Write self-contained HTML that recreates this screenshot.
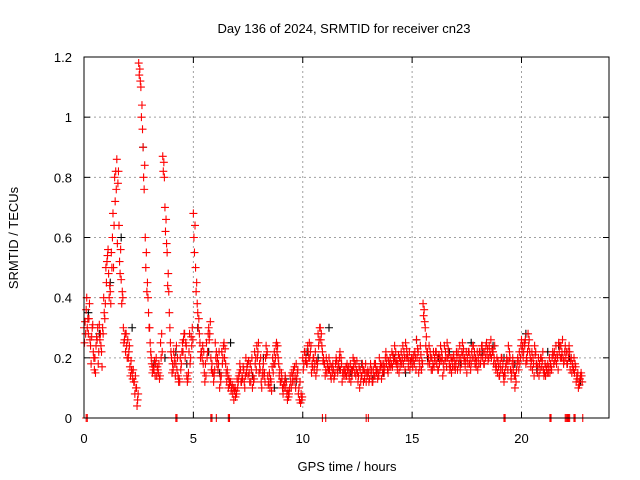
<!DOCTYPE html>
<html><head><meta charset="utf-8"><style>
body{margin:0;background:#fff}
svg{display:block;font-family:"Liberation Sans",sans-serif}
</style></head><body>
<svg id="chart" width="640" height="480" xmlns="http://www.w3.org/2000/svg">
<text x="344" y="33" font-size="13" text-anchor="middle">Day 136 of 2024, SRMTID for receiver cn23</text>
<text x="347" y="471" font-size="13" text-anchor="middle">GPS time / hours</text>
<text transform="translate(18,238) rotate(-90)" font-size="13" text-anchor="middle">SRMTID / TECUs</text>
<g id="grid"></g>
<g id="ticks"></g>
<g id="black"></g>
<g id="red"></g>
<rect x="84" y="57" width="525" height="361" fill="none" stroke="#000" stroke-width="1"/>
</svg>
<script>
const xTicks=[0,5,10,15,20];
const yTicks=[0,0.2,0.4,0.6,0.8,1.0,1.2];
const yTickLabels=["0","0.2","0.4","0.6","0.8","1","1.2"];
const redA=[.30,.36,.28,.24,.31,.20,.26,.31,.22,.40,.50,.56,.42,.60,.80,.86,.64,.46,.30,.22,.26,.17,.15,.12,.10,1.18,1.10,.90,.60,.45,.30,.18,.16,.20,.15,.25,.87,.70,.55,.35,.20,.22,.18,.14,.20,.25,.28,.14,.22,.27,.68,.50,.35,.25,.20,.15,.25,.30,.20,.15,.25,.20,.10,.22,.25,.15,.10,.12,.08,.10,.13,.15,.12,.16,.20,.14,.18,.10,.22,.24,.15,.12,.18,.20,.14,.10,.17,.22,.25,.18,.12,.08,.14,.06,.10,.15,.12,.18,.08,.05,.20,.22,.18,.25,.15,.20,.14,.28,.30,.22,.18,.15,.20,.13,.16,.18,.15,.22,.12,.16,.14,.17,.12,.20,.18,.15,.10,.14,.16,.12,.15,.18,.12,.14,.16,.20,.13,.18,.22,.15,.20,.17,.24,.19,.15,.22,.18,.25,.20,.16,.20,.18,.26,.15,.21,.38,.30,.22,.18,.20,.17,.22,.16,.24,.14,.19,.25,.18,.15,.21,.18,.22,.16,.25,.20,.15,.22,.18,.24,.20,.16,.22,.24,.18,.25,.20,.26,.22,.18,.15,.14,.20,.12,.18,.24,.16,.20,.10,.18,.22,.26,.22,.18,.28,.20,.16,.24,.18,.14,.20,.16,.14,.18,.15,.20,.22,.18,.25,.24,.20,.24,.18,.22,.15,.20,.12,.10,.14];
const redB=[.25,.40,.33,.18,.22,.15,.30,.26,.17,.35,.45,.48,.38,.68,.72,.58,.52,.38,.25,.28,.20,.14,.13,.08,.04,1.14,1.00,.80,.50,.40,.25,.15,.19,.14,.18,.20,.82,.62,.44,.30,.15,.18,.24,.12,.16,.22,.20,.12,.28,.24,.60,.42,.30,.20,.24,.12,.20,.26,.16,.12,.20,.16,.14,.18,.20,.12,.13,.09,.10,.07,.10,.18,.14,.12,.15,.19,.12,.14,.18,.20,.18,.10,.14,.24,.11,.13,.20,.18,.22,.14,.15,.11,.10,.09,.14,.12,.17,.13,.10,.08,.16,.19,.24,.20,.18,.16,.19,.24,.26,.19,.14,.18,.16,.17,.13,.20,.18,.16,.15,.14,.18,.13,.16,.17,.14,.12,.16,.18,.13,.15,.12,.14,.16,.18,.13,.16,.18,.15,.18,.19,.17,.21,.19,.16,.20,.18,.22,.20,.17,.19,.17,.22,.20,.19,.16,.34,.24,.18,.22,.16,.20,.18,.21,.19,.18,.22,.20,.16,.19,.17,.22,.18,.20,.21,.17,.20,.18,.22,.20,.17,.20,.18,.20,.22,.21,.24,.20,.18,.16,.19,.18,.16,.15,.20,.19,.13,.16,.14,.20,.18,.22,.25,.20,.24,.17,.20,.21,.15,.18,.17,.14,.17,.15,.18,.22,.19,.21,.22,.20,.18,.20,.22,.16,.18,.15,.14,.12,.15];
const redC=[.32,.30,.38,.27,.20,.24,.18,.28,.30,.33,.52,.40,.55,.50,.82,.78,.48,.42,.26,.24,.22,.19,.16,.14,.06,1.16,1.04,.76,.55,.35,.22,.17,.14,.17,.13,.28,.85,.66,.48,.25,.18,.20,.16,.13,.18,.26,.25,.13,.18,.30,.55,.45,.33,.22,.18,.18,.22,.28,.18,.14,.22,.18,.12,.20,.23,.16,.11,.10,.06,.09,.12,.16,.13,.10,.17,.15,.16,.12,.20,.22,.16,.14,.15,.21,.12,.12,.15,.20,.24,.16,.13,.10,.12,.07,.12,.14,.14,.15,.06,.06,.18,.20,.22,.22,.17,.18,.16,.26,.28,.20,.16,.17,.18,.15,.14,.19,.17,.20,.14,.15,.16,.15,.14,.19,.16,.14,.12,.16,.15,.14,.13,.16,.14,.16,.15,.18,.15,.17,.20,.17,.18,.19,.22,.18,.17,.20,.20,.23,.19,.18,.19,.20,.23,.17,.19,.36,.27,.20,.20,.18,.19,.20,.18,.22,.16,.20,.23,.17,.17,.19,.20,.20,.18,.23,.19,.18,.20,.20,.22,.19,.18,.20,.22,.20,.23,.22,.23,.20,.17,.17,.16,.18,.14,.19,.22,.15,.18,.12,.19,.20,.24,.24,.19,.26,.19,.18,.22,.17,.16,.19,.15,.16,.17,.17,.21,.20,.20,.24,.22,.19,.22,.20,.19,.17,.18,.13,.11,.14];
const redD=[.28,.33,.26,.30,.16,.27,.22,.24,.28,.38,.54,.44,.50,.64,.76,.82,.56,.40,.28,.20,.24,.16,.12,.10,.08,1.12,.96,.84,.42,.30,.20,.16,.18,.16,.14,.22,.80,.58,.42,.22,.16,.14,.20,.12,.22,.28,.24,.15,.20,.26,.64,.38,.28,.22,.22,.14,.28,.32,.15,.16,.18,.22,.14,.24,.18,.14,.12,.11,.09,.08,.14,.12,.17,.14,.18,.12,.20,.13,.16,.25,.20,.16,.12,.22,.15,.09,.18,.24,.20,.12,.10,.12,.08,.08,.10,.16,.10,.16,.12,.07,.22,.18,.20,.24,.20,.22,.18,.30,.24,.18,.20,.16,.14,.18,.15,.16,.20,.18,.16,.17,.15,.18,.16,.15,.19,.17,.14,.12,.18,.16,.16,.12,.18,.15,.14,.17,.16,.20,.16,.18,.22,.20,.18,.21,.19,.24,.16,.21,.22,.20,.21,.16,.22,.24,.18,.32,.22,.24,.16,.22,.22,.16,.20,.20,.24,.17,.21,.20,.20,.16,.16,.24,.22,.19,.22,.22,.16,.24,.18,.22,.22,.24,.18,.24,.19,.21,.22,.24,.20,.14,.20,.14,.17,.16,.20,.18,.14,.16,.16,.24,.20,.26,.22,.22,.22,.14,.18,.20,.20,.22,.18,.15,.20,.16,.18,.24,.16,.20,.26,.22,.18,.24,.20,.16,.17,.15,.13,.12];
const blackVals=[.35,.28,.45,.60,.30,.90,.18,.20,.22,.18,.30,.22,.15,.25,.12,.14,.20,.10,.13,.12,.22,.20,.30,.16,.15,.18,.13,.15,.20,.15,.26,.20,.20,.22,.18,.25,.22,.24,.20,.18,.28,.16,.22,.24,.20,.12];
const zeroTimes=[0.1,0.15,4.2,4.25,5.8,5.85,6.05,6.6,6.65,10.9,11.05,12.9,13.0,19.2,19.25,21.3,21.35,22.0,22.05,22.1,22.15,22.2,22.4,22.45,22.8];
const X0=84,X1=609,Y0=418,Y1=57;
const xs=t=>X0+t/24*(X1-X0);
const ys=v=>Y0-v/1.2*(Y0-Y1);
const NS="http://www.w3.org/2000/svg";
function mk(tag,attrs,parent){const e=document.createElementNS(NS,tag);for(const k in attrs)e.setAttribute(k,attrs[k]);parent.appendChild(e);return e;}
const grid=document.getElementById('grid'),ticks=document.getElementById('ticks');
xTicks.forEach(t=>{const x=xs(t);
 if(t>0){const g=mk('line',{x1:x,x2:x,y1:Y0,y2:Y1,stroke:'#a0a0a0','stroke-dasharray':'2,3'},grid);}
 const a=mk('line',{x1:x,x2:x,y1:Y0,y2:Y0-6,stroke:'#000'},ticks);
 const b=mk('line',{x1:x,x2:x,y1:Y1,y2:Y1+6,stroke:'#000'},ticks);
 const l=mk('text',{x:x,y:443,'font-size':13,'text-anchor':'middle'},ticks);l.textContent=t;});
yTicks.forEach((v,i)=>{const y=ys(v);
 if(i>0&&i<yTicks.length-1){const g=mk('line',{x1:X0,x2:X1,y1:y,y2:y,stroke:'#a0a0a0','stroke-dasharray':'2,3'},grid);}
 const a=mk('line',{x1:X0,x2:X0+6,y1:y,y2:y,stroke:'#000'},ticks);
 const b=mk('line',{x1:X1,x2:X1-6,y1:y,y2:y,stroke:'#000'},ticks);
 const l=mk('text',{x:72,y:y+5,'font-size':13,'text-anchor':'end'},ticks);l.textContent=yTickLabels[i];});
function plus(g,t,v,col){const x=xs(t),y=ys(v);
 const p=mk('path',{d:`M${x-4},${y}H${x+4}M${x},${y-4}V${y+4}`,stroke:col,'stroke-width':1.1,fill:'none'},g);
 
 }
const bg=document.getElementById('black'),rg=document.getElementById('red');
blackVals.forEach((v,i)=>plus(bg,i*0.5+0.2,v,'#000'));
redA.forEach((v,i)=>plus(rg,i*0.1,v,'#f00'));
redB.forEach((v,i)=>plus(rg,i*0.1+0.025,v,'#f00'));
redC.forEach((v,i)=>plus(rg,i*0.1+0.05,v,'#f00'));
redD.forEach((v,i)=>plus(rg,i*0.1+0.075,v,'#f00'));
zeroTimes.forEach(t=>plus(rg,t,0,'#f00'));
</script>
</body></html>
